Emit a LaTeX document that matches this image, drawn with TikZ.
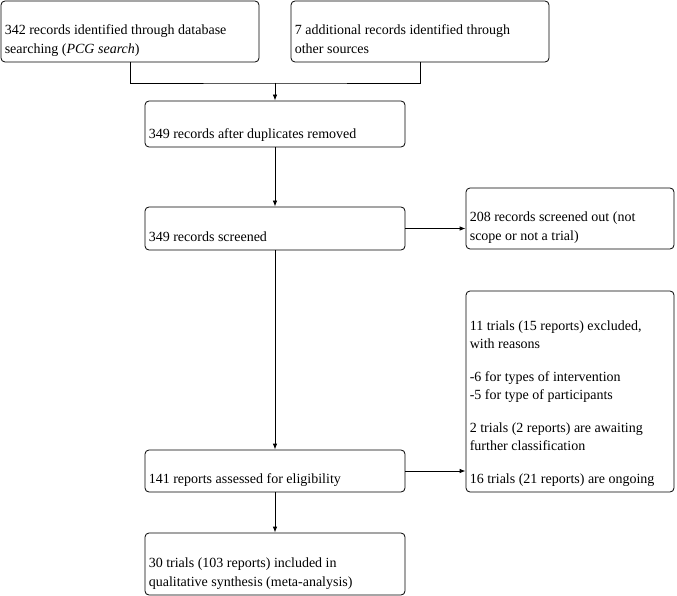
\documentclass[tikz,border=0pt]{standalone}
\usepackage{fontspec}
\setmainfont{LiberationSerif-Regular.ttf}[ItalicFont=LiberationSerif-Italic.ttf, BoldFont=LiberationSerif-Bold.ttf]
\usepackage{tikz}
\usetikzlibrary{arrows.meta,positioning}
\tikzset{
  box/.style={draw, rounded corners=4pt, line width=0.8pt, inner sep=0pt},
  txt/.style={anchor=south west, align=left, inner sep=0pt,
              font=\fontsize{14}{18.5}\selectfont, execute at end node=\strut},
  arr/.style={-{Latex[length=6pt,width=4.5pt]}, line width=0.8pt},
  lnk/.style={line width=0.8pt},
}

\begin{document}
\begin{tikzpicture}[x=1pt, y=-1pt]
  \useasboundingbox (0,0) rectangle (677,596);
  % identification
  \node[box, minimum width=258pt, minimum height=61pt] (db)  at (130,31.5) {};
  \node[box, minimum width=258pt, minimum height=61pt] (oth) at (420,31.5) {};
  % main column
  \node[box, minimum width=260pt, minimum height=46pt] (dup)  at (275,124)   {};
  \node[box, minimum width=260pt, minimum height=43pt] (scr)  at (275,228.5) {};
  \node[box, minimum width=260pt, minimum height=42pt] (elig) at (275,471)   {};
  \node[box, minimum width=260pt, minimum height=62pt] (incl) at (275,564)   {};
  % side boxes
  \node[box, minimum width=208pt, minimum height=61pt]  (out)  at (570,218.5) {};
  \node[box, minimum width=208pt, minimum height=201pt] (excl) at (570,391.5) {};

  % texts
  \node[txt] (db-t)   at ([shift={(4,-3.3)}]db.south west)   {342 records identified through database\\searching (\textit{PCG search})};
  \node[txt] (oth-t)  at ([shift={(4,-3.3)}]oth.south west)  {7 additional records identified through\\other sources};
  \node[txt] (dup-t)  at ([shift={(4,-3.3)}]dup.south west)  {349 records after duplicates removed};
  \node[txt] (scr-t)  at ([shift={(4,-3.3)}]scr.south west)  {349 records screened};
  \node[txt] (out-t)  at ([shift={(4,-3.3)}]out.south west)  {208 records screened out (not\\scope or not a trial)};
  \node[txt] (elig-t) at ([shift={(4,-3.3)}]elig.south west) {141 reports assessed for eligibility};
  \node[txt] (incl-t) at ([shift={(4,-3.3)}]incl.south west) {30 trials (103 reports) included in\\qualitative synthesis (meta-analysis)};
  \node[txt] (excl-t) at ([shift={(4,-3.3)}]excl.south west) {11 trials (15 reports) excluded,\\with reasons\\[14pt]-6 for types of intervention\\-5 for type of participants\\[14pt]2 trials (2 reports) are awaiting\\further classification\\[14pt]16 trials (21 reports) are ongoing};

  % connectors
  \coordinate (join) at (275,83);
  \draw[lnk] (db.south) |- (join) -| (oth.south);
  \draw[arr] (join) -- (dup);
  \draw[arr] (dup) -- (scr);
  \draw[arr] (scr.east) -- (scr.east -| out.west);
  \draw[arr] (scr) -- (elig);
  \draw[arr] (elig.east) -- (elig.east -| excl.west);
  \draw[arr] (elig) -- (incl);
\end{tikzpicture}
\end{document}
